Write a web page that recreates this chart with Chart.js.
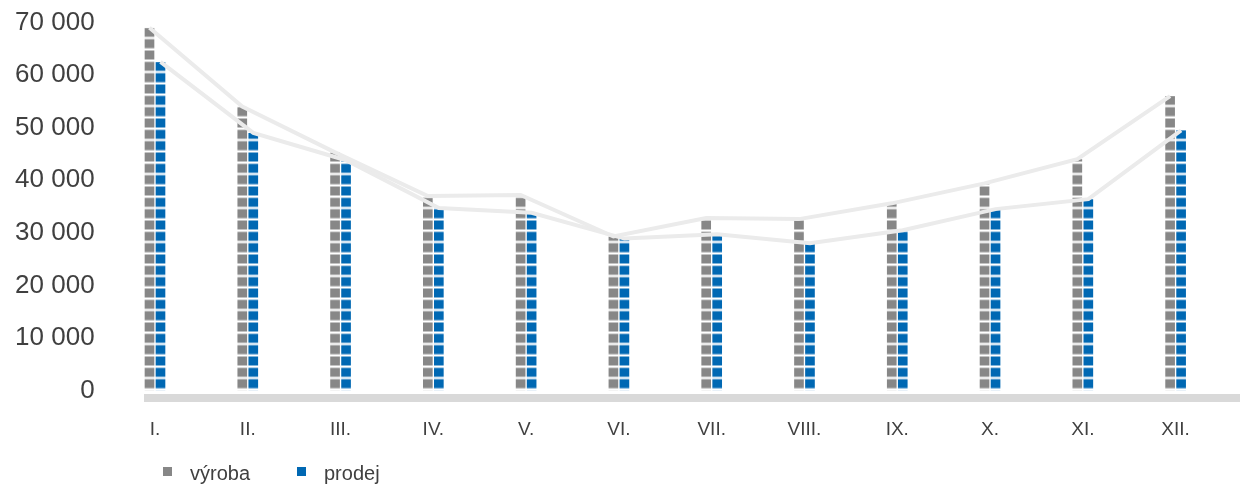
<!DOCTYPE html>
<html>
<head>
<meta charset="utf-8">
<script src="https://cdn.jsdelivr.net/npm/chart.js@4.4.1/dist/chart.umd.min.js"></script>
<style>
    body { margin: 0; background: #fff; }
    #wrap { position: relative; width: 1240px; height: 484px; }
    .legend { position: absolute; left: 0; top: 463px; font: 20px 'Liberation Sans', Arial, sans-serif; color: #404040; line-height: 20px; }
    .legend .sq { position: absolute; top: 4px; width: 9px; height: 9px; }
    .legend .lbl { position: absolute; top: 0; white-space: nowrap; }
</style>
</head>
<body>
<div id="wrap">
    <canvas id="chart"></canvas>
    <div class="legend">
        <span class="sq" style="left:163px; background:#878787"></span><span class="lbl" style="left:190px">výroba</span>
        <span class="sq" style="left:297px; background:#0068b3"></span><span class="lbl" style="left:324px">prodej</span>
    </div>
</div>
<script>
    // data
    const months = ['I.', 'II.', 'III.', 'IV.', 'V.', 'VI.', 'VII.', 'VIII.', 'IX.', 'X.', 'XI.', 'XII.'];
    const vyroba = [69000, 54000, 45300, 37000, 37200, 29300, 32800, 32600, 35600, 39400, 44000, 56000];
    const prodej = [62500, 49000, 43800, 34700, 33800, 28900, 29700, 28000, 30500, 34500, 36400, 49500];

    const GRAY = '#878787';
    const BLUE = '#0068b3';

    // column of small squares, 3 cells per tile
    function cellPattern(color) {
        const c = document.createElement('canvas');
        c.width = 4;
        c.height = 34;
        const g = c.getContext('2d');
        g.fillStyle = color;
        for (let k = 0; k < 3; k++) g.fillRect(0, k * 34 / 3, 4, 9);
        return g.createPattern(c, 'repeat');
    }
    const grayCells = cellPattern(GRAY);
    const blueCells = cellPattern(BLUE);

    const cellsPlugin = {
        id: 'cells',
        beforeDatasetsDraw(chart) {
            const y0 = chart.scales.y.getPixelForValue(0);
            [grayCells, blueCells].forEach(p => p.setTransform(new DOMMatrix().translate(0, y0)));
            // thick baseline under the columns
            const ctx = chart.ctx;
            const x0 = chart.scales.x.getPixelForValue(0) - 11;
            ctx.save();
            ctx.fillStyle = '#d9d9d9';
            ctx.fillRect(x0, y0 + 3.5, chart.width - x0, 8);
            ctx.restore();
        },
        beforeDatasetDraw(chart, args) {
            const ds = chart.data.datasets[args.index];
            if (ds.shift) {
                chart.ctx.save();
                chart.ctx.translate(ds.shift, 0);
            }
        },
        afterDatasetDraw(chart, args) {
            if (chart.data.datasets[args.index].shift) chart.ctx.restore();
        }
    };

    Chart.defaults.font.family = "'Liberation Sans', Arial, sans-serif";
    Chart.defaults.color = '#404040';

    new Chart(document.getElementById('chart'), {
        data: {
            labels: months,
            datasets: [
                {
                    type: 'line', label: 'výroba', data: vyroba, shift: -5.5,
                    borderColor: '#ebebeb', borderWidth: 4, pointRadius: 0,
                    tension: 0, order: 0, clip: false
                },
                {
                    type: 'line', label: 'prodej', data: prodej, shift: 5.5,
                    borderColor: '#ebebeb', borderWidth: 4, pointRadius: 0,
                    tension: 0, order: 0, clip: false
                },
                {
                    type: 'bar', label: 'výroba', data: vyroba,
                    backgroundColor: grayCells, borderColor: 'rgba(0,0,0,0)',
                    borderWidth: { left: 1, right: 1, top: 0, bottom: 0 },
                    barThickness: 11, order: 1
                },
                {
                    type: 'bar', label: 'prodej', data: prodej,
                    backgroundColor: blueCells, borderColor: 'rgba(0,0,0,0)',
                    borderWidth: { left: 1, right: 1, top: 0, bottom: 0 },
                    barThickness: 11, order: 1
                }
            ]
        },
        options: {
            responsive: true,
            maintainAspectRatio: false,
            animation: false,
            events: [],
            layout: { padding: { top: 22.5, right: 18, bottom: 0, left: 0 } },
            plugins: {
                legend: { display: false },
                tooltip: { enabled: false }
            },
            scales: {
                x: {
                    grid: { display: false, drawTicks: false },
                    border: { display: false },
                    ticks: { font: { size: 19 }, padding: 28, maxRotation: 0, autoSkip: false },
                    afterFit: s => { s.height = 93.5; }
                },
                y: {
                    min: 0,
                    max: 70000,
                    grid: { display: false, drawTicks: false },
                    border: { display: false },
                    ticks: {
                        stepSize: 10000,
                        padding: 14,
                        font: { size: 26, lineHeight: 0.6 },
                        callback: v => v.toLocaleString('en-US').replace(/,/g, ' ')
                    },
                    afterFit: s => { s.width = 108.6; }
                }
            }
        },
        plugins: [cellsPlugin]
    });
</script>
</body>
</html>
